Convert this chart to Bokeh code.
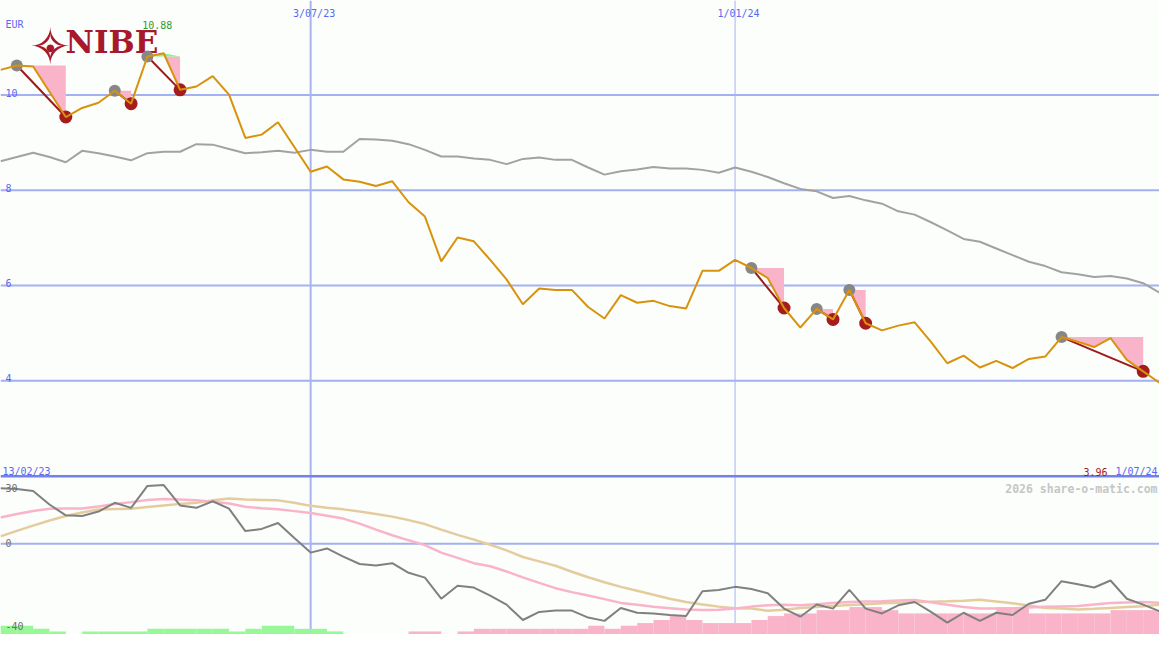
import numpy as np
import pandas as pd
from bokeh.plotting import figure
from bokeh.models import Range1d, Span, Label
from bokeh.embed import file_html
from bokeh.resources import INLINE

# ---------------- data ----------------
start_date = "2023-02-20"
n_weeks = 72
dates = pd.date_range(start_date, periods=n_weeks, freq="7D")

price = [10.53, 10.62, 10.60, 10.07, 9.54, 9.73, 9.84, 10.09, 9.82, 10.81,
         10.88, 10.11, 10.18, 10.40, 10.01, 9.10, 9.17, 9.43, 8.91, 8.39,
         8.50, 8.23, 8.18, 8.09, 8.19, 7.75, 7.45, 6.51, 7.01, 6.93,
         6.54, 6.13, 5.61, 5.94, 5.91, 5.91, 5.55, 5.31, 5.80, 5.64,
         5.68, 5.57, 5.52, 6.31, 6.31, 6.54, 6.37, 6.16, 5.53, 5.12,
         5.51, 5.29, 5.91, 5.21, 5.06, 5.16, 5.23, 4.82, 4.37, 4.53,
         4.28, 4.42, 4.27, 4.46, 4.51, 4.92, 4.82, 4.71, 4.90, 4.44,
         4.20, 3.96]

moving_avg = [8.61, 8.70, 8.79, 8.70, 8.59, 8.83, 8.78, 8.71, 8.63, 8.78,
              8.81, 8.81, 8.97, 8.96, 8.87, 8.78, 8.80, 8.83, 8.79, 8.85,
              8.81, 8.81, 9.08, 9.07, 9.04, 8.97, 8.85, 8.71, 8.71, 8.67,
              8.64, 8.55, 8.66, 8.69, 8.64, 8.64, 8.48, 8.33, 8.40, 8.44,
              8.49, 8.46, 8.46, 8.43, 8.37, 8.48, 8.39, 8.28, 8.15, 8.03,
              7.98, 7.84, 7.88, 7.79, 7.72, 7.56, 7.49, 7.33, 7.16, 6.98,
              6.92, 6.78, 6.64, 6.50, 6.41, 6.28, 6.24, 6.18, 6.20, 6.15,
              6.05, 5.85]

momentum = [25.3, 25.0, 24.1, 17.9, 13.0, 12.7, 14.7, 18.7, 16.4, 26.4,
            26.8, 17.5, 16.4, 19.4, 16.0, 5.8, 6.8, 9.5, 2.7, -4.0,
            -2.1, -5.8, -9.2, -9.9, -8.8, -13.2, -15.4, -25.0, -19.1, -19.9,
            -23.6, -27.7, -34.7, -31.0, -30.4, -30.4, -33.6, -35.1, -29.2, -31.4,
            -31.7, -32.4, -32.9, -21.6, -21.0, -19.6, -20.6, -22.5, -29.5, -33.2,
            -27.6, -29.5, -21.0, -29.5, -31.7, -28.0, -26.5, -31.0, -35.9, -31.4,
            -35.1, -31.4, -32.4, -27.3, -25.5, -17.0, -18.4, -19.9, -16.7, -25.0,
            -27.7, -30.7]

signal_pink = [12.0, 13.6, 15.0, 16.0, 16.1, 16.1, 17.0, 18.1, 19.0, 20.0,
               20.4, 20.2, 19.9, 19.2, 18.4, 16.9, 16.2, 15.8, 14.9, 14.0,
               12.8, 11.5, 9.2, 6.5, 3.9, 1.6, -0.6, -4.0, -6.4, -8.8,
               -10.2, -12.6, -15.3, -17.8, -20.2, -22.0, -23.5, -25.2, -26.9, -27.8,
               -28.7, -29.3, -29.9, -30.1, -30.0, -29.5, -28.6, -28.0, -27.7, -28.0,
               -27.5, -27.0, -26.5, -26.3, -26.2, -25.8, -25.6, -26.6, -27.7, -28.8,
               -29.5, -29.5, -29.4, -29.0, -28.7, -28.5, -28.3, -27.6, -27.0, -26.7,
               -26.5, -26.8]

signal_tan = [3.4, 5.9, 8.3, 10.6, 12.7, 14.3, 15.6, 15.9, 16.0, 16.8,
              17.5, 18.2, 18.7, 19.8, 20.6, 20.2, 20.0, 19.8, 18.7, 17.3,
              16.4, 15.7, 14.7, 13.6, 12.4, 10.8, 9.0, 6.5, 4.1, 1.9,
              -0.4, -3.0, -6.0, -8.0, -10.0, -12.7, -15.2, -17.5, -19.6, -21.4,
              -23.2, -25.0, -26.5, -27.6, -28.6, -29.3, -29.5, -30.5, -30.0, -29.2,
              -28.8, -28.3, -27.9, -27.5, -27.1, -26.8, -26.5, -26.4, -26.2, -25.9,
              -25.5, -26.3, -27.1, -28.1, -29.2, -29.5, -29.9, -29.6, -29.2, -28.8,
              -28.4, -27.7]

nan = float("nan")
green_bars = [-37.3, -37.3, -38.7, -39.9, nan, -39.9, -39.9, -39.9, -39.9, -38.7,
              -38.7, -38.7, -38.7, -38.7, -39.9, -38.7, -37.3, -37.3, -38.7, -38.7,
              -39.9] + [nan] * 50
pink_bars = [nan] * 25 + [-39.9, -39.9, nan, -39.9, -38.7, -38.7, -38.7, -38.7, -38.7,
                          -38.7, -38.7, -37.3, -38.7, -37.3, -36.1, -34.7, -32.9, -34.7,
                          -36.1, -36.1, -36.1, -34.7, -32.9, -31.7, -31.7, -30.2, -30.2,
                          -28.8, -28.8, -30.2, -31.7, -31.7, -31.7, -31.7, -31.7, -31.7,
                          -28.8, -28.8, -31.7, -31.7, -31.7, -31.7, -31.7, -30.2, -30.2,
                          -30.2]

# sell signals: (peak week index, trough week index)
signals = [(1, 4), (7, 8), (9, 11), (46, 48), (50, 51), (52, 53), (65, 70)]

price_ticks = [10, 8, 6, 4]
osc_ticks = [30, 0, -40]
date_ticks = ["2023-07-03", "2024-01-01"]
date_tick_labels = ["3/07/23", "1/01/24"]
first_date_label = "13/02/23"
last_date_label = "1/07/24"
last_price_label = "3.96"
max_price_label = "10.88"
currency = "EUR"

# ---------------- setup ----------------
def ms(d):
    return pd.Timestamp(d).value / 1e6

x = np.array([ms(d) for d in dates])
px = np.array(price)
x0, x1 = x[0], x[-1]
y_lo, y_hi = -1.325, 11.986
o_lo, o_hi = -41.3, 247.5

W, H = 1159, 634
bg = "#fbfefb"

p = figure(width=W, height=H, x_range=Range1d(x0, x1), y_range=Range1d(y_lo, y_hi),
           output_backend="svg", toolbar_location=None, min_border=0,
           x_axis_location=None, y_axis_location=None,
           background_fill_color=bg, border_fill_color=bg, outline_line_color=None)
p.grid.visible = False
p.extra_y_ranges = {"osc": Range1d(o_lo, o_hi)}

def X(pxl):
    return x0 + pxl / 1175.0 * (x1 - x0)

def Y(pyl):
    return y_hi - pyl * (y_hi - y_lo) / 650.0

def YO(pyl):
    return o_hi - pyl * (o_hi - o_lo) / 650.0

upp = (y_hi - y_lo) / 650.0

# grid lines
grid_col = "#a3b1f1"
for v in price_ticks:
    p.add_layout(Span(location=v, dimension="width", line_color=grid_col,
                      line_width=2, level="underlay"))
p.add_layout(Span(location=0, dimension="width", y_range_name="osc",
                  line_color=grid_col, line_width=2, level="underlay"))
for i, d in enumerate(date_ticks):
    p.add_layout(Span(location=ms(d), dimension="height", line_color="#a8b4f0",
                      line_width=2 if i == 0 else 1, level="underlay"))

# logo (underneath data)
logo_red = "#a8182c"
p.add_layout(Label(x=X(50.5), y=Y(48), text="\u2727", text_font="DejaVu Sans",
                   text_font_style="bold", text_font_size="50px", text_color=logo_red,
                   text_align="center", text_baseline="middle", level="underlay"))
p.add_layout(Label(x=X(50.5), y=Y(48), text="\u25CF", text_font="DejaVu Sans",
                   text_font_size="10px", text_color=logo_red,
                   text_align="center", text_baseline="middle", level="underlay"))
p.add_layout(Label(x=X(66), y=Y(61), text="NIBE", text_font="DejaVu Serif",
                   text_font_style="bold", text_font_size="31px",
                   text_color=logo_red, level="underlay"))

# oscillator bars
for vals, col in ((green_bars, "#98f898"), (pink_bars, "#f9b4c9")):
    L, R, T = [], [], []
    for k, v in enumerate(vals):
        if not np.isnan(v) and k + 1 < len(x):
            L.append(x[k]); R.append(x[k + 1]); T.append(v)
    p.quad(left=L, right=R, top=T, bottom=o_lo - 5, y_range_name="osc",
           fill_color=col, line_color=None)

# oscillator lines
p.line(x, signal_tan, y_range_name="osc", line_color="#e4cc9e", line_width=2.5)
p.line(x, signal_pink, y_range_name="osc", line_color="#f9b4c9", line_width=2.5)
p.line(x, momentum, y_range_name="osc", line_color="#808080", line_width=2)

# separator between panels
p.add_layout(Span(location=2.0, dimension="width", line_color="#7282ea",
                  line_width=2.5))

# signal areas
for g, r in signals:
    xs = x[g:r + 1]
    seg = px[g:r + 1]
    lvl = np.full_like(seg, px[g])
    p.varea(x=xs, y1=np.minimum(seg, lvl), y2=lvl, fill_color="#f9b4c9")
    if np.any(seg > lvl):
        p.varea(x=xs, y1=lvl, y2=np.maximum(seg, lvl), fill_color="#90ee90")

# moving average
p.line(x, moving_avg, line_color="#a2a2a2", line_width=2)

# connectors and markers
gi = [g for g, r in signals]
ri = [r for g, r in signals]
p.segment(x0=x[gi], y0=px[gi], x1=x[ri], y1=px[ri], line_color="#9c1a1a", line_width=2)
p.scatter(x=x[gi], y=px[gi], size=12, fill_color="#878787", line_color=None)
p.scatter(x=x[ri], y=px[ri], size=13, fill_color="#a51c1c", line_color=None)

# price line
p.line(x, price, line_color="#d9920c", line_width=2)

# ---------------- texts ----------------
mono = "DejaVu Sans Mono"
blue = "#5b67f0"

def lab(xv, yv, t, color, align="left", size="10px", style="normal", yr=None):
    kw = dict(x=xv, y=yv, text=t, text_color=color, text_font=mono,
              text_font_size=size, text_align=align, text_baseline="alphabetic",
              text_font_style=style)
    if yr:
        kw["y_range_name"] = yr
    p.add_layout(Label(**kw))

lab(X(5), Y(25), currency, blue)
lab(x[int(np.argmax(px))] - (X(6.5) - x0), Y(25), max_price_label, "#2f9a2f", align="center")
for d, t in zip(date_ticks, date_tick_labels):
    lab(ms(d) + (X(3.5) - x0), Y(13), t, blue, align="center")
for v in price_ticks:
    lab(X(5), v + 2.5 * upp, str(v), blue)
lab(X(2), 2.0 + 4.5 * upp, first_date_label, blue)
lab(X(1098), 2.0 + 4.5 * upp, last_price_label, "#a01c1c")
lab(X(1173), 2.0 + 4.5 * upp, last_date_label, blue, align="right")
lab(X(1173), Y(501), "2026 share-o-matic.com", "#c6c6c6", align="right",
    size="11.5px", style="bold")
osc_label_px = [500, 556, 641]
for v, pyl in zip(osc_ticks, osc_label_px):
    lab(X(5), YO(pyl), str(v), "#6e6e6e", yr="osc")

open("out.html", "w").write(file_html(p, INLINE))
